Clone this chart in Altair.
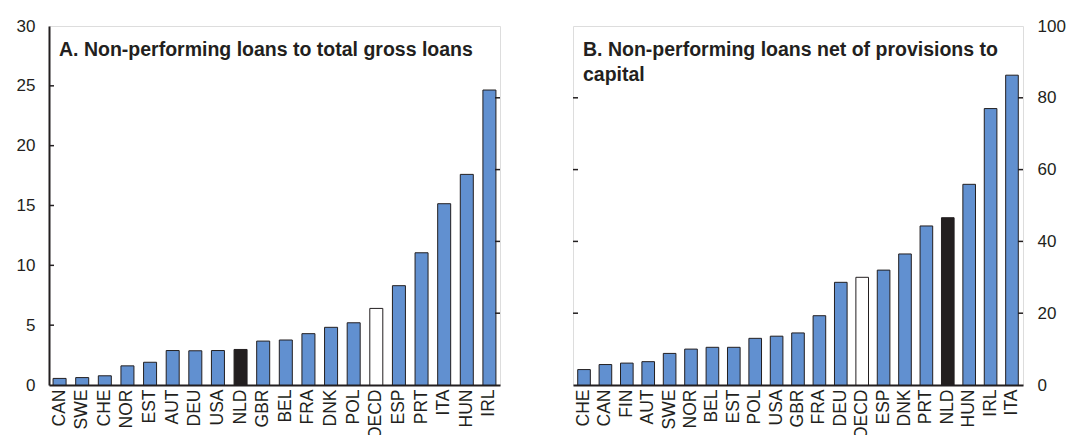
import altair as alt
import pandas as pd

FONT = "Liberation Sans, Arial, sans-serif"
DARK = "#231F20"
BLUE = "#6190D0"

a_countries = ["CAN", "SWE", "CHE", "NOR", "EST", "AUT", "DEU", "USA", "NLD", "GBR",
               "BEL", "FRA", "DNK", "POL", "OECD", "ESP", "PRT", "ITA", "HUN", "IRL"]
a_values = [0.55, 0.62, 0.77, 1.6, 1.9, 2.88, 2.86, 2.88, 2.97, 3.67,
            3.76, 4.29, 4.82, 5.2, 6.4, 8.3, 11.05, 15.15, 17.6, 24.65]

b_countries = ["CHE", "CAN", "FIN", "AUT", "SWE", "NOR", "BEL", "EST", "POL", "USA", "GBR",
               "FRA", "DEU", "OECD", "ESP", "DNK", "PRT", "NLD", "HUN", "IRL", "ITA"]
b_values = [4.3, 5.7, 6.1, 6.5, 8.8, 10.0, 10.5, 10.5, 13.0, 13.6, 14.5,
            19.3, 28.6, 30.0, 32.0, 36.5, 44.3, 46.6, 55.9, 77.0, 86.3]

a_ticks = [5, 10, 15, 20, 25]
b_ticks = [20, 40, 60, 80]
a_domain = [0, 30]
b_domain = [0, 100]

title_a = ["A. Non-performing loans to total gross loans"]
title_b = ["B. Non-performing loans net of provisions to", "capital"]

W_A, W_B, H = 451, 450, 359


def group(c):
    if c == "NLD":
        return "nld"
    if c == "OECD":
        return "oecd"
    return "other"


df_a = pd.DataFrame({"country": a_countries, "value": a_values,
                     "grp": [group(c) for c in a_countries]})
df_b = pd.DataFrame({"country": b_countries, "value": b_values,
                     "grp": [group(c) for c in b_countries]})

color_scale = alt.Scale(domain=["other", "nld", "oecd"], range=[BLUE, DARK, "#FFFFFF"])


def panel(df, domain, countries, width, yaxis, title_lines, left_ticks, left_dom,
          right_ticks, right_dom, pad_in, pad_out):
    bars = alt.Chart(df).mark_bar(stroke=DARK, strokeWidth=1).encode(
        x=alt.X("country:N", sort=countries, title=None,
                scale=alt.Scale(paddingInner=pad_in, paddingOuter=pad_out),
                axis=alt.Axis(labelAngle=-90, labelFontSize=17.5, labelFont=FONT,
                              labelColor=DARK, tickSize=0, labelPadding=4,
                              domainColor=DARK, domainWidth=2)),
        y=alt.Y("value:Q", scale=alt.Scale(domain=domain, nice=False), axis=yaxis),
        fill=alt.Fill("grp:N", scale=color_scale, legend=None),
    )
    lt = alt.Chart(pd.DataFrame({"t": left_ticks})).mark_rule(color=DARK, strokeWidth=1.5).encode(
        x=alt.value(0), x2=alt.value(5),
        y=alt.Y("t:Q", scale=alt.Scale(domain=left_dom, nice=False), axis=None),
    )
    rt = alt.Chart(pd.DataFrame({"t": right_ticks})).mark_rule(color=DARK, strokeWidth=1.5).encode(
        x=alt.value(width - 5), x2=alt.value(width),
        y=alt.Y("t:Q", scale=alt.Scale(domain=right_dom, nice=False), axis=None),
    )
    ttl = alt.Chart(pd.DataFrame({"lines": [title_lines]})).mark_text(
        align="left", baseline="alphabetic", font=FONT, fontWeight="bold",
        fontSize=19.5, color=DARK, lineHeight=25,
    ).encode(x=alt.value(10), y=alt.value(30), text="lines:N")
    return alt.layer(bars, lt, rt, ttl).resolve_scale(y="independent").properties(
        width=width, height=H)


axis_a = alt.Axis(orient="left", values=[0, 5, 10, 15, 20, 25, 30], tickSize=0,
                  labelPadding=14, labelFontSize=17, labelFont=FONT, labelColor=DARK,
                  domainColor=DARK, domainWidth=2, grid=False, title=None)
axis_b = alt.Axis(orient="right", values=[0, 20, 40, 60, 80, 100], tickSize=0,
                  labelPadding=14, labelFontSize=17, labelFont=FONT, labelColor=DARK,
                  domain=False, grid=False, title=None)

pa = panel(df_a, a_domain, a_countries, W_A, axis_a, title_a, a_ticks, a_domain,
           b_ticks, b_domain, 0.425, 0.18)
pb = panel(df_b, b_domain, b_countries, W_B, axis_b, title_b, b_ticks, b_domain,
           b_ticks, b_domain, 0.41, 0.22)

chart = alt.hconcat(pa, pb, spacing=69).properties(
    padding={"left": 15, "top": 16, "right": 5, "bottom": 5}
).configure_view(stroke=DARK, strokeWidth=2).configure(background="white")

chart.save("out.html", embed_options={"renderer": "svg", "actions": False})
